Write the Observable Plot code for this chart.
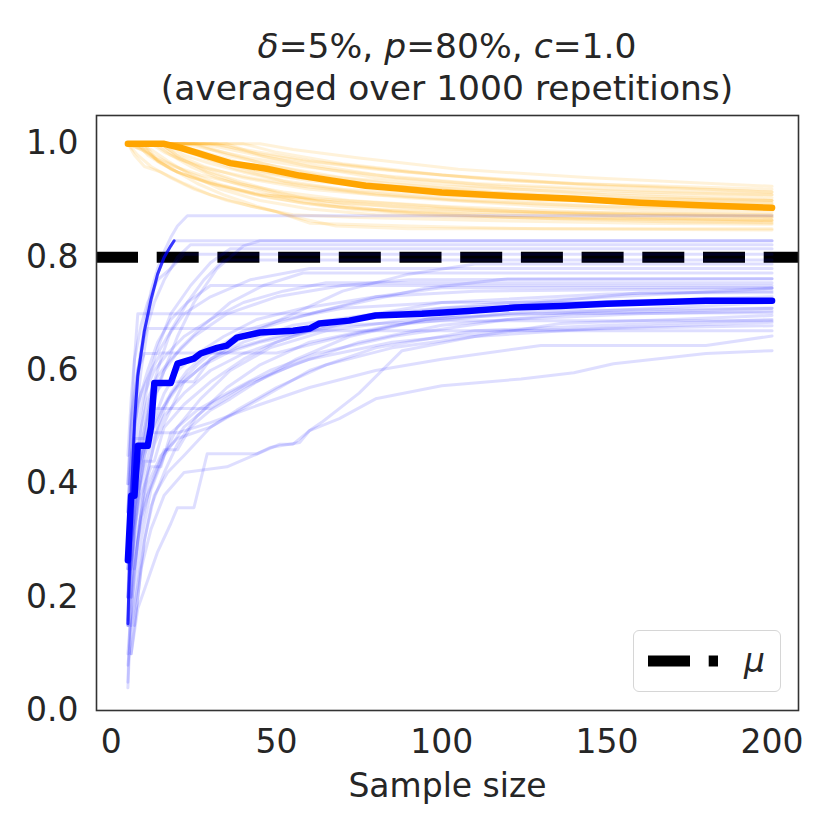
<!DOCTYPE html>
<html>
<head>
<meta charset="utf-8">
<script src="https://cdn.jsdelivr.net/npm/d3@7"></script>
<script src="https://cdn.jsdelivr.net/npm/@observablehq/plot@0.6"></script>
<style>
  body { margin: 0; background: #fff; }
  #wrap { position: relative; width: 830px; height: 830px; font-family: "DejaVu Sans", sans-serif; color: #262626; }
  #title { position: absolute; left: 96px; width: 702px; top: 25px; text-align: center; font-size: 34.5px; line-height: 42px; }
  #legend { position: absolute; left: 633px; top: 630px; width: 146px; height: 60px; border: 1.5px solid #d6d6d6; border-radius: 6px; background: rgba(255,255,255,0.8); }
  #legend svg { position: absolute; left: 0; top: 0; }
</style>
</head>
<body>
<div id="wrap">
  <div id="chart"></div>
  <div id="title"><i>δ</i>=5%, <i>p</i>=80%, <i>c</i>=1.0<br>(averaged over 1000 repetitions)</div>
  <div id="legend"><svg width="146" height="60"><line x1="14" x2="84" y1="30" y2="30" stroke="#000" stroke-width="11" stroke-dasharray="42,18.7"></line><text x="110" y="41" font-family="DejaVu Sans" font-style="italic" font-size="33" fill="#262626">μ</text></svg></div>
</div>
<script>
const xTicks = [0, 50, 100, 150, 200];
const yTicks = [0, 0.2, 0.4, 0.6, 0.8, 1.0];
const mu = 0.8;

// mean curves [sample size, value]
const blueMean = [[5,0.265],[6,0.379],[7,0.379],[8,0.467],[11,0.467],[12,0.50],[13,0.578],[18,0.578],[20,0.612],[25,0.621],[27,0.63],[32,0.64],[35,0.644],[38,0.658],[45,0.667],[55,0.670],[60,0.674],[63,0.683],[72,0.688],[80,0.697],[94,0.700],[108,0.705],[122,0.711],[136,0.714],[150,0.718],[180,0.723],[200,0.723]];
const orangeMean = [[5,1.0],[16,1.0],[21,0.993],[26,0.984],[31,0.975],[36,0.966],[47,0.956],[57,0.944],[67,0.935],[77,0.926],[87,0.921],[100,0.914],[120,0.908],[140,0.903],[160,0.896],[180,0.891],[200,0.887]];

// steepest early blue run (drawn stronger)
const blueEdge = [[5,0.153],[6,0.36],[7,0.51],[8,0.59],[10,0.67],[12,0.725],[14,0.77],[16,0.80],[18,0.82],[19,0.829]];

// individual blue runs
const blueRuns = [
  [[5,0.05],[6,0.22],[7,0.36],[9,0.45],[12,0.53],[16,0.6],[20,0.66],[25,0.72],[32,0.78],[40,0.82],[45,0.829],[200,0.829]],
  [[5,0.04],[6,0.18],[8,0.30],[10,0.40],[13,0.47],[17,0.52],[22,0.58],[30,0.62],[40,0.66],[55,0.70],[70,0.74],[90,0.77],[110,0.788],[200,0.788]],
  [[5,0.15],[6,0.28],[7,0.40],[9,0.50],[11,0.58],[14,0.64],[18,0.70],[24,0.75],[30,0.79],[36,0.815],[200,0.815]],
  [[6,0.30],[8,0.42],[10,0.50],[12,0.56],[15,0.62],[18,0.67],[23,0.72],[28,0.76],[34,0.795],[200,0.795]],
  [[5,0.25],[7,0.38],[9,0.47],[12,0.55],[16,0.6],[21,0.64],[28,0.68],[36,0.72],[46,0.75],[58,0.772],[200,0.772]],
  [[5,0.35],[6,0.5],[7,0.62],[8,0.70],[60,0.70],[75,0.72],[95,0.745],[120,0.762],[200,0.762]],
  [[5,0.2],[6,0.38],[7,0.5],[9,0.6],[11,0.674],[45,0.674],[60,0.70],[80,0.73],[100,0.746],[200,0.746]],
  [[5,0.10],[7,0.25],[9,0.35],[11,0.42],[14,0.5],[18,0.56],[23,0.6],[29,0.631],[50,0.631],[70,0.66],[95,0.69],[130,0.72],[160,0.737],[200,0.737]],
  [[5,0.2],[6,0.3],[8,0.4],[10,0.47],[13,0.533],[30,0.533],[40,0.57],[55,0.61],[75,0.65],[100,0.68],[140,0.70],[200,0.71]],
  [[6,0.1],[8,0.2],[10,0.3],[12,0.36],[16,0.42],[20,0.47],[26,0.52],[35,0.57],[45,0.61],[60,0.65],[85,0.68],[120,0.70],[200,0.702]],
  [[6,0.1],[8,0.18],[11,0.23],[14,0.28],[18,0.33],[20,0.358],[25,0.358],[29,0.453],[44,0.453],[48,0.464],[57,0.473],[60,0.494],[69,0.515],[80,0.55],[100,0.573],[124,0.585],[140,0.596],[152,0.612],[180,0.63],[200,0.635]],
  [[7,0.15],[9,0.25],[12,0.32],[16,0.38],[22,0.42],[35,0.43],[51,0.47],[55,0.47],[60,0.494],[64,0.51],[75,0.56],[88,0.635],[110,0.66],[136,0.683],[170,0.69],[200,0.697]],
  [[5,0.3],[7,0.4],[9,0.45],[12,0.49],[20,0.49],[30,0.508],[45,0.54],[60,0.57],[80,0.6],[100,0.62],[130,0.644],[180,0.644],[200,0.661]],
  [[5,0.25],[6,0.35],[8,0.42],[11,0.48],[15,0.53],[20,0.57],[28,0.61],[38,0.64],[50,0.66],[70,0.68],[100,0.688],[200,0.688]],
  [[5,0.4],[6,0.5],[8,0.6],[10,0.66],[13,0.72],[16,0.76],[20,0.8],[24,0.822],[200,0.822]],
  [[5,0.16],[6,0.37],[7,0.52],[8,0.6],[10,0.68],[12,0.74],[14,0.78],[16,0.81],[18,0.835],[20,0.855],[23,0.873],[200,0.873]],
  [[5,0.15],[6,0.36],[7,0.51],[8,0.59],[10,0.67],[12,0.72],[14,0.77],[16,0.80],[18,0.82],[19,0.829],[200,0.829]],
  [[5,0.3],[6,0.4],[8,0.5],[10,0.56],[13,0.6],[17,0.63],[22,0.66],[30,0.69],[40,0.72],[52,0.74],[65,0.755],[200,0.755]],
  [[5,0.2],[7,0.32],[9,0.4],[12,0.47],[16,0.52],[22,0.56],[30,0.6],[40,0.63],[55,0.66],[75,0.69],[100,0.71],[140,0.72],[200,0.73]],
  [[6,0.2],[8,0.3],[11,0.38],[15,0.44],[20,0.5],[27,0.55],[36,0.6],[48,0.64],[65,0.67],[90,0.69],[130,0.7],[200,0.72]],
  [[5,0.08],[7,0.2],[9,0.3],[12,0.39],[16,0.45],[22,0.5],[30,0.54],[42,0.58],[60,0.62],[85,0.65],[120,0.67],[160,0.675],[200,0.679]],
  [[5,0.35],[6,0.44],[7,0.5],[9,0.56],[12,0.6],[15,0.631],[35,0.631],[45,0.65],[60,0.67],[200,0.67]],
  [[5,0.3],[7,0.42],[9,0.5],[11,0.55],[14,0.59],[18,0.62],[25,0.66],[35,0.7],[50,0.73],[70,0.75],[90,0.76],[200,0.762]],
  [[5,0.45],[6,0.55],[7,0.62],[9,0.68],[11,0.72],[14,0.76],[18,0.78],[22,0.805],[200,0.805]],
  [[6,0.25],[8,0.37],[10,0.45],[13,0.5],[17,0.55],[21,0.58],[26,0.61],[32,0.64],[40,0.67],[52,0.69],[70,0.71],[100,0.72],[200,0.72]],
  [[5,0.15],[6,0.25],[8,0.32],[11,0.4],[15,0.45],[20,0.48],[30,0.5],[45,0.55],[60,0.6],[80,0.64],[110,0.67],[150,0.68],[200,0.69]],
  [[5,0.3],[6,0.42],[7,0.48],[10,0.48],[12,0.55],[16,0.58],[25,0.58],[30,0.62],[40,0.65],[55,0.68],[80,0.7],[120,0.72],[200,0.745]],
  [[6,0.2],[7,0.32],[9,0.38],[12,0.43],[15,0.43],[18,0.49],[26,0.53],[35,0.56],[48,0.6],[62,0.63],[85,0.66],[120,0.69],[160,0.7],[200,0.705]],
  [[5,0.25],[7,0.35],[10,0.44],[13,0.44],[16,0.5],[22,0.54],[30,0.58],[40,0.62],[50,0.65],[70,0.69],[100,0.72],[150,0.735],[200,0.74]],
  [[5,0.4],[6,0.52],[8,0.6],[10,0.63],[14,0.63],[17,0.66],[22,0.7],[30,0.73],[42,0.76],[60,0.78],[200,0.78]],
  [[6,0.15],[8,0.22],[10,0.3],[13,0.38],[17,0.42],[22,0.45],[30,0.5],[38,0.53],[50,0.57],[65,0.61],[85,0.64],[110,0.66],[150,0.675],[200,0.685]],
  [[5,0.2],[7,0.33],[9,0.42],[12,0.5],[16,0.56],[20,0.6],[26,0.63],[34,0.66],[44,0.69],[58,0.71],[80,0.73],[110,0.74],[200,0.745]],
  [[5,0.35],[6,0.45],[8,0.54],[11,0.6],[14,0.65],[18,0.69],[23,0.72],[30,0.75],[200,0.75]],
  [[7,0.25],[9,0.34],[12,0.4],[16,0.46],[20,0.46],[24,0.5],[30,0.53],[36,0.55],[44,0.58],[56,0.62],[72,0.66],[95,0.69],[130,0.705],[200,0.71]]
];

// individual orange runs
const orangeRuns = [
  [[5,1],[15,1],[20,0.98],[28,0.96],[40,0.94],[60,0.92],[90,0.905],[130,0.89],[170,0.88],[200,0.875]],
  [[5,1],[10,1],[14,0.97],[20,0.95],[30,0.93],[45,0.91],[70,0.9],[110,0.885],[160,0.87],[200,0.865]],
  [[5,1],[25,1],[35,0.98],[50,0.96],[70,0.94],[100,0.925],[140,0.915],[200,0.905]],
  [[5,1],[8,0.98],[12,0.96],[18,0.94],[25,0.92],[35,0.9],[50,0.88],[60,0.86],[90,0.855],[130,0.85],[200,0.848]],
  [[5,1],[30,1],[40,0.99],[60,0.97],[90,0.95],[120,0.935],[160,0.925],[200,0.915]],
  [[5,1],[12,1],[16,0.985],[22,0.97],[30,0.955],[42,0.94],[58,0.925],[80,0.91],[110,0.9],[150,0.89],[200,0.885]],
  [[5,1],[18,1],[24,0.985],[32,0.97],[44,0.95],[60,0.935],[85,0.92],[120,0.905],[170,0.895],[200,0.89]],
  [[5,1],[7,0.98],[10,0.96],[15,0.95],[22,0.93],[30,0.91],[42,0.89],[55,0.875],[75,0.87],[110,0.865],[160,0.86],[200,0.858]],
  [[5,1],[40,1],[50,0.985],[70,0.965],[100,0.945],[140,0.93],[200,0.92]],
  [[5,1],[9,1],[13,0.975],[19,0.96],[27,0.945],[38,0.93],[52,0.915],[72,0.9],[100,0.89],[140,0.88],[200,0.87]],
  [[5,1],[20,1],[28,0.975],[38,0.955],[52,0.935],[70,0.92],[95,0.91],[130,0.9],[200,0.895]],
  [[5,1],[14,1],[20,0.975],[28,0.955],[38,0.935],[50,0.915],[65,0.895],[85,0.88],[120,0.87],[170,0.862],[200,0.86]],
  [[5,1],[22,1],[30,0.99],[42,0.975],[58,0.96],[80,0.945],[110,0.93],[150,0.92],[200,0.91]],
  [[5,1],[11,0.985],[16,0.97],[23,0.95],[32,0.93],[44,0.91],[58,0.895],[76,0.885],[100,0.88],[150,0.875],[200,0.87]],
  [[5,1],[35,1],[45,0.98],[60,0.96],[80,0.94],[110,0.925],[150,0.91],[200,0.9]],
  [[5,1],[16,1],[22,0.98],[30,0.965],[40,0.95],[55,0.93],[75,0.915],[105,0.9],[145,0.89],[200,0.88]],
  [[5,1],[8,1],[11,0.98],[15,0.965],[20,0.95],[27,0.935],[36,0.92],[48,0.905],[65,0.89],[90,0.88],[130,0.872],[200,0.865]],
  [[5,1],[26,1],[34,0.985],[46,0.965],[62,0.945],[84,0.93],[115,0.915],[160,0.905],[200,0.9]],
  [[5,1],[13,1],[18,0.98],[24,0.96],[32,0.94],[43,0.92],[56,0.9],[72,0.885],[95,0.875],[135,0.868],[200,0.862]],
  [[5,1],[45,1],[55,0.99],[75,0.975],[105,0.955],[145,0.94],[200,0.925]],
  [[5,1],[10,0.99],[14,0.97],[20,0.95],[26,0.93],[34,0.91],[44,0.89],[56,0.87],[68,0.855],[90,0.85],[200,0.85]],
  [[5,1],[19,1],[25,0.99],[34,0.975],[46,0.955],[62,0.94],[85,0.925],[115,0.912],[160,0.9],[200,0.895]],
  [[5,1],[28,1],[36,0.99],[48,0.975],[64,0.96],[86,0.94],[118,0.925],[160,0.915],[200,0.91]],
  [[5,1],[9,0.99],[13,0.975],[18,0.955],[25,0.94],[34,0.925],[46,0.91],[62,0.9],[85,0.89],[120,0.88],[200,0.875]],
  [[5,1],[17,1],[23,0.985],[31,0.97],[42,0.955],[56,0.94],[75,0.93],[100,0.92],[140,0.905],[200,0.9]],
  [[5,1],[12,0.99],[17,0.97],[24,0.945],[33,0.92],[45,0.9],[60,0.885],[80,0.875],[110,0.87],[200,0.865]],
  [[5,1],[32,1],[42,0.985],[58,0.97],[80,0.955],[110,0.94],[150,0.925],[200,0.915]],
  [[5,1],[15,1],[21,0.975],[29,0.95],[39,0.93],[52,0.91],[70,0.895],[95,0.885],[135,0.878],[200,0.872]]
];

const flat = runs => runs.flatMap((run, i) => run.map(([n, v]) => ({run: i, n, v})));
const pts = arr => arr.map(([n, v]) => ({n, v}));

const chart = Plot.plot({
  width: 830,
  height: 830,
  marginLeft: 96,
  marginRight: 32,
  marginTop: 115,
  marginBottom: 120,
  style: {fontFamily: "DejaVu Sans", fontSize: "33px", color: "#262626", background: "#fff"},
  x: {domain: [-4.5, 208], ticks: xTicks},
  y: {domain: [0, 1.05], ticks: yTicks},
  marks: [
    Plot.ruleY([mu], {stroke: "#000", strokeWidth: 11, strokeDasharray: "42,18.7"}),
    Plot.line(flat(orangeRuns), {x: "n", y: "v", z: "run", stroke: "orange", strokeOpacity: 0.15, strokeWidth: 3}),
    Plot.line(flat(blueRuns), {x: "n", y: "v", z: "run", stroke: "blue", strokeOpacity: 0.13, strokeWidth: 3}),
    Plot.line(pts(blueEdge), {x: "n", y: "v", stroke: "blue", strokeOpacity: 0.75, strokeWidth: 3}),
    Plot.line(pts(orangeMean), {x: "n", y: "v", stroke: "orange", strokeWidth: 6.5, strokeLinecap: "round", strokeLinejoin: "round"}),
    Plot.line(pts(blueMean), {x: "n", y: "v", stroke: "blue", strokeWidth: 6.5, strokeLinecap: "round", strokeLinejoin: "round"}),
    Plot.axisX({ticks: xTicks, tickSize: 0, tickPadding: 19, fontSize: 33, label: "Sample size", labelAnchor: "center", labelArrow: "none", labelOffset: 86}),
    Plot.axisY({ticks: yTicks, tickSize: 0, tickPadding: 18, fontSize: 33, tickFormat: d3.format(".1f"), label: null}),
    Plot.frame({stroke: "#333", strokeWidth: 1.6})
  ]
});
document.getElementById("chart").appendChild(chart);
</script>
</body>
</html>
